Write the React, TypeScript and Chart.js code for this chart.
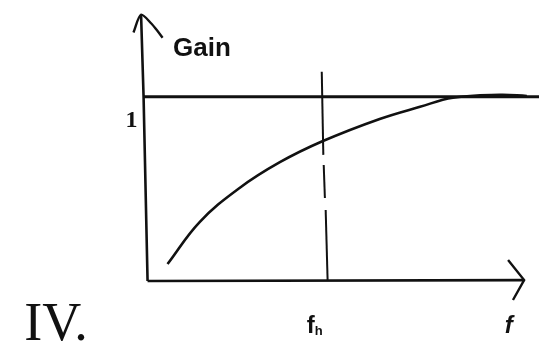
import React, { useEffect, useRef } from "react";
import { Chart, registerables } from "chart.js";

Chart.register(...registerables);

// Gain curve (f in arbitrary units 0..100, gain relative to 1)
const curveF = [5.1, 13.3, 23.5, 33.8, 44.8, 59.3, 69.6, 78.0, 90.0, 96.9];
const curveGain = [0.092, 0.32, 0.505, 0.645, 0.76, 0.88, 0.946, 0.995, 1.011, 1.005];

// Unity-gain reference line
const unityF = [-1.0, 100];
const unityGain = [1, 1];

// f_h marker (drawn as broken vertical line)
const fhSegF = [[44.5, 44.9], [45.0, 45.3], [45.5, 46.0]];
const fhSegGain = [[1.136, 0.685], [0.63, 0.451], [0.386, 0]];

// Axes (hand-drawn)
const yAxisF = [0, -1.02, -1.66];
const yAxisGain = [0, 1, 1.446];
const yArrowF = [-3.6, -1.66, 1.02, 2.3, 3.84];
const yArrowGain = [1.35, 1.446, 1.397, 1.364, 1.321];
const xAxisF = [0, 96.2];
const xAxisGain = [0, 0.005];
const xArrowF = [92.1, 96.2, 93.35];
const xArrowGain = [0.114, 0.005, -0.103];

// Tick labels
const fhValue = 45.5;
const unityTickLabel = "1";
const yTitle = "Gain";
const xTitle = "f";
const fhLabel = "f";
const fhSub = "h";
const panelLabel = "IV.";

const pts = (xs: number[], ys: number[]) => xs.map((x, i) => ({ x, y: ys[i] }));

const INK = "#111";

export default function App() {
  const ref = useRef<HTMLCanvasElement | null>(null);

  useEffect(() => {
    if (!ref.current) return;
    const base = {
      type: "line" as const,
      borderColor: INK,
      pointRadius: 0,
      fill: false,
      clip: false as any,
      tension: 0,
    };
    const datasets: any[] = [
      { ...base, data: pts(curveF, curveGain), borderWidth: 2.6, tension: 0.4 },
      { ...base, data: pts(unityF, unityGain), borderWidth: 3 },
      ...fhSegF.map((xs, i) => ({ ...base, data: pts(xs, fhSegGain[i]), borderWidth: 2 })),
      { ...base, data: pts(yAxisF, yAxisGain), borderWidth: 2.6 },
      { ...base, data: pts(yArrowF, yArrowGain), borderWidth: 2.4, tension: 0.3 },
      { ...base, data: pts(xAxisF, xAxisGain), borderWidth: 2.6 },
      { ...base, data: pts(xArrowF, xArrowGain), borderWidth: 2.4 },
    ];

    const labels = {
      id: "labels",
      afterDraw(chart: any) {
        const { ctx, scales } = chart;
        const xs = scales.x;
        const ys = scales.y;
        ctx.save();
        ctx.fillStyle = INK;
        ctx.textBaseline = "alphabetic";
        // Gain
        ctx.font = "bold 26px 'Liberation Sans', Arial, sans-serif";
        ctx.textAlign = "left";
        ctx.fillText(yTitle, xs.getPixelForValue(6.5), ys.getPixelForValue(1.22));
        // 1
        ctx.font = "bold 24px 'Liberation Serif', 'Times New Roman', serif";
        ctx.textAlign = "right";
        ctx.fillText(unityTickLabel, xs.getPixelForValue(-2.6), ys.getPixelForValue(1) + 30);
        // f_h
        const fx = xs.getPixelForValue(fhValue);
        const by = ys.getPixelForValue(0);
        ctx.font = "bold 24px 'Liberation Sans', Arial, sans-serif";
        ctx.textAlign = "right";
        ctx.fillText(fhLabel, fx - 11, by + 52);
        ctx.font = "bold 13px 'Liberation Sans', Arial, sans-serif";
        ctx.textAlign = "left";
        ctx.fillText(fhSub, fx - 11, by + 54);
        // f
        ctx.font = "bold italic 24px 'Liberation Sans', Arial, sans-serif";
        ctx.textAlign = "center";
        ctx.fillText(xTitle, xs.getPixelForValue(92.3), by + 52);
        // IV.
        ctx.font = "54px 'Liberation Serif', 'Times New Roman', serif";
        ctx.textAlign = "left";
        ctx.fillText(panelLabel, xs.getPixelForValue(-31.5), by + 59);
        ctx.restore();
      },
    };

    const chart = new Chart(ref.current, {
      type: "line",
      data: { datasets },
      options: {
        animation: false,
        responsive: false,
        devicePixelRatio: 1,
        layout: { padding: { left: 128, right: 0, top: 14, bottom: 65 } },
        plugins: { legend: { display: false }, tooltip: { enabled: false } },
        scales: {
          x: { type: "linear", min: -5, max: 100, display: false },
          y: { type: "linear", min: 0, max: 1.45, display: false },
        },
        events: [],
      },
      plugins: [labels],
    });
    return () => chart.destroy();
  }, []);

  return (
    <div style={{ position: "absolute", left: 0, top: 0, width: 539, height: 346, background: "#fff" }}>
      <canvas ref={ref} width={539} height={346} style={{ display: "block" }} />
    </div>
  );
}
